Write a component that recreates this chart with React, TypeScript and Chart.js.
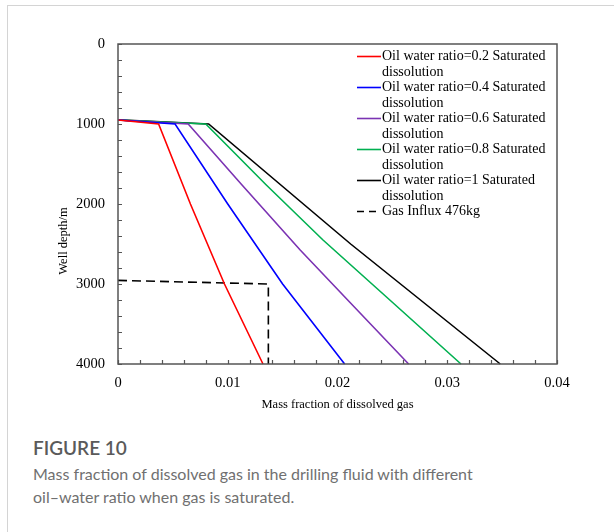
import React, { useEffect, useRef } from "react";
import { Chart, registerables } from "chart.js";

Chart.register(...registerables);

// ---- data (depth in m, mass fraction of dissolved gas) ----
const seriesLabels = [
  "Oil water ratio=0.2 Saturated dissolution",
  "Oil water ratio=0.4 Saturated dissolution",
  "Oil water ratio=0.6 Saturated dissolution",
  "Oil water ratio=0.8 Saturated dissolution",
  "Oil water ratio=1 Saturated dissolution",
  "Gas Influx 476kg",
];
const seriesColors = ["#ff0000", "#0000ff", "#7b33b3", "#00b050", "#000000", "#000000"];

const depth02 = [950, 1000, 2000, 3000, 4000];
const frac02 = [0, 0.0037, 0.0066, 0.0097, 0.01321];

const depth04 = [950, 1000, 2000, 3000, 4000];
const frac04 = [0, 0.0052, 0.01, 0.015, 0.02065];

const depth06 = [950, 1000, 1760, 2575, 3225, 4000];
const frac06 = [0, 0.0064, 0.01128, 0.0166, 0.0211, 0.02648];

const depth08 = [950, 1000, 1760, 2450, 3225, 4000];
const frac08 = [0, 0.008, 0.01349, 0.01868, 0.02497, 0.03125];

const depth10 = [948, 1000, 2500, 4000];
const frac10 = [0, 0.00826, 0.0212, 0.03483];

const depthInflux = [2955, 3000, 4000];
const fracInflux = [0, 0.0137, 0.0137];

const xMin = 0, xMax = 0.04, xStep = 0.01, xMinorStep = 0.002;
const yMin = 0, yMax = 4000, yStep = 1000, yMinorStep = 200;

const xTitle = "Mass fraction of dissolved gas";
const yTitle = "Well depth/m";
const figureLabel = "FIGURE 10";
const figureCaption =
  "Mass fraction of dissolved gas in the drilling fluid with different oil\u2013water ratio when gas is saturated.";

const SERIF = "'Liberation Serif', 'Times New Roman', serif";

function toPoints(xs: number[], ys: number[]) {
  return xs.map((x, i) => ({ x, y: ys[i] }));
}

export default function App() {
  const ref = useRef<HTMLCanvasElement>(null);

  useEffect(() => {
    document.body.style.margin = "0";
    const series = [
      [frac02, depth02],
      [frac04, depth04],
      [frac06, depth06],
      [frac08, depth08],
      [frac10, depth10],
      [fracInflux, depthInflux],
    ];
    const datasets = series.map(([xs, ys], i) => ({
      label: seriesLabels[i],
      data: toPoints(xs, ys),
      showLine: true,
      borderColor: seriesColors[i],
      backgroundColor: seriesColors[i],
      borderWidth: 1.6,
      pointRadius: 0,
      pointHoverRadius: 0,
      tension: 0,
      borderDash: i === 5 ? [9, 5] : [],
      clip: false as any,
    }));

    const framePlugin = {
      id: "frameAndLegend",
      afterDraw(chart: any) {
        const { ctx, chartArea: a, scales } = chart;
        const xs = scales.x, ys = scales.y;
        ctx.save();
        // tick marks inside
        ctx.strokeStyle = "#555";
        ctx.lineWidth = 1.2;
        ctx.beginPath();
        for (let v = yMin; v <= yMax + 1e-9; v += yMinorStep) {
          const p = Math.round(ys.getPixelForValue(v)) + 0.5;
          ctx.moveTo(a.left, p);
          ctx.lineTo(a.left + 4, p);
        }
        for (let k = 0; k <= Math.round((xMax - xMin) / xMinorStep); k++) {
          const v = xMin + k * xMinorStep;
          const p = Math.round(xs.getPixelForValue(v)) + 0.5;
          ctx.moveTo(p, a.bottom);
          ctx.lineTo(p, a.bottom - 4);
        }
        ctx.stroke();
        // frame
        ctx.strokeStyle = "#555";
        ctx.lineWidth = 1.5;
        ctx.strokeRect(a.left, a.top, a.right - a.left, a.bottom - a.top);

        // y-axis title
        ctx.fillStyle = "#000";
        ctx.font = `12.5px ${SERIF}`;
        ctx.textAlign = "center";
        ctx.textBaseline = "middle";
        ctx.save();
        ctx.translate(a.left - 54, a.top + 197);
        ctx.rotate(-Math.PI / 2);
        ctx.fillText(yTitle, 0, 0);
        ctx.restore();

        // legend
        ctx.font = `14px ${SERIF}`;
        ctx.textAlign = "left";
        const lineX0 = a.left + 239;
        const lineX1 = a.left + 263;
        const textX = a.left + 264;
        const maxW = a.right - textX - 2;
        let y = a.top + 12.5;
        chart.data.datasets.forEach((ds: any) => {
          ctx.strokeStyle = ds.borderColor;
          ctx.lineWidth = 1.6;
          ctx.setLineDash(ds.borderDash && ds.borderDash.length ? [7, 5] : []);
          ctx.beginPath();
          ctx.moveTo(lineX0, y);
          ctx.lineTo(lineX1, y);
          ctx.stroke();
          ctx.setLineDash([]);
          const words = String(ds.label).split(" ");
          const lines: string[] = [];
          let cur = "";
          words.forEach((w) => {
            const t = cur ? cur + " " + w : w;
            if (ctx.measureText(t).width > maxW && cur) {
              lines.push(cur);
              cur = w;
            } else cur = t;
          });
          if (cur) lines.push(cur);
          ctx.fillStyle = "#000";
          lines.forEach((ln, j) => ctx.fillText(ln, textX, y + j * 15.5));
          y += 15.5 * Math.max(lines.length, 1);
        });
        ctx.restore();
      },
    };

    const chart = new Chart(ref.current!, {
      type: "scatter",
      data: { datasets: datasets as any },
      options: {
        responsive: false,
        animation: false,
        layout: { padding: { left: 0, top: 44, right: 57, bottom: 0 } },
        plugins: { legend: { display: false }, tooltip: { enabled: false } },
        scales: {
          x: {
            type: "linear",
            min: xMin,
            max: xMax,
            grid: { display: false },
            border: { display: false },
            ticks: {
              stepSize: xStep,
              padding: 2,
              color: "#000",
              font: { family: SERIF, size: 14.5 },
              maxRotation: 0,
              callback: (v: any) => String(Number(Number(v).toFixed(3))),
            },
            title: {
              display: true,
              text: xTitle,
              color: "#000",
              font: { family: SERIF, size: 12.5 },
              padding: { top: 0, bottom: 8 },
            },
            afterFit: (s: any) => {
              s.height = 56;
            },
          },
          y: {
            type: "linear",
            reverse: true,
            min: yMin,
            max: yMax,
            grid: { display: false },
            border: { display: false },
            ticks: {
              stepSize: yStep,
              padding: 5,
              color: "#000",
              font: { family: SERIF, size: 14.5 },
              callback: (v: any) => String(v),
            },
            afterFit: (s: any) => {
              s.width = 118;
            },
          },
        },
      },
      plugins: [framePlugin],
    });
    return () => chart.destroy();
  }, []);

  return (
    <div
      style={{
        position: "relative",
        width: 614,
        height: 532,
        background: "#fff",
        overflow: "hidden",
      }}
    >
      <div
        style={{
          position: "absolute",
          left: 7,
          top: 5,
          right: -20,
          bottom: -20,
          borderLeft: "1px solid #d4d4d4",
          borderTop: "1px solid #d4d4d4",
        }}
      />
      <canvas
        ref={ref}
        width={614}
        height={420}
        style={{ position: "absolute", left: 0, top: 0, width: 614, height: 420 }}
      />
      <div
        style={{
          position: "absolute",
          left: 33,
          top: 436,
          fontFamily: "Lato, 'Open Sans', sans-serif",
          fontWeight: 600,
          fontSize: 19,
          color: "#5a5a5a",
          lineHeight: "24px",
        }}
      >
        {figureLabel}
      </div>
      <div
        style={{
          position: "absolute",
          left: 33,
          top: 462,
          width: 440,
          fontFamily: "Lato, 'Open Sans', sans-serif",
          fontSize: 16,
          color: "#707070",
          lineHeight: "23px",
        }}
      >
        {figureCaption}
      </div>
    </div>
  );
}
